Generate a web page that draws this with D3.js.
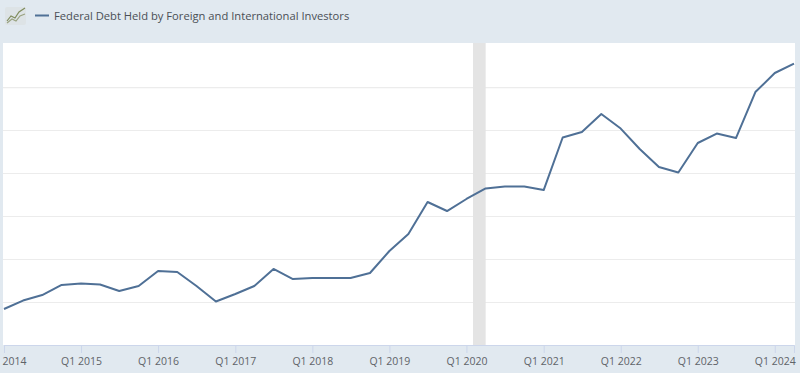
<!DOCTYPE html>
<html>
<head>
<meta charset="utf-8">
<script src="https://cdn.jsdelivr.net/npm/d3@7/dist/d3.min.js"></script>
<style>
html, body { margin: 0; padding: 0; background: #e1e9f0; overflow: hidden; }
text { font-family: "Open Sans", sans-serif; }
</style>
</head>
<body>
<div id="chart"></div>
<script>
var quarters = ["2014-01","2014-04","2014-07","2014-10","2015-01","2015-04","2015-07","2015-10",
    "2016-01","2016-04","2016-07","2016-10","2017-01","2017-04","2017-07","2017-10",
    "2018-01","2018-04","2018-07","2018-10","2019-01","2019-04","2019-07","2019-10",
    "2020-01","2020-04","2020-07","2020-10","2021-01","2021-04","2021-07","2021-10",
    "2022-01","2022-04","2022-07","2022-10","2023-01","2023-04","2023-07","2023-10",
    "2024-01","2024-04"];
// billions (the y labels are cut off, so the scale is a guess)
var debtValues = [5919,6017,6081,6198,6215,6203,6128,6186,
    6360,6349,6186,6006,6093,6186,6384,6267,
    6279,6279,6279,6337,6593,6791,7163,7058,
    7198,7320,7343,7343,7302,7913,7977,8186,
    8017,7779,7570,7506,7849,7959,7907,8442,
    8663,8773];
var yTicks = [6000,6500,7000,7500,8000,8500];
var tickYears = [2014,2015,2016,2017,2018,2019,2020,2021,2022,2023,2024];
var recession = ["2020-02","2020-04"];
var seriesName = "Federal Debt Held by Foreign and International Investors";

var width = 800, height = 373;
var margin = {top: 43, right: 5, bottom: 28, left: 3};
var parseMonth = d3.timeParse("%Y-%m");

var svg = d3.select("#chart").append("svg")
    .attr("width", width)
    .attr("height", height)
    .style("display", "block");

var x = d3.scaleTime()
    .domain([parseMonth("2014-01"), parseMonth("2024-04")])
    .range([4, 794]);

var y = d3.scaleLinear()
    .domain([5500, 9012])
    .range([height - margin.bottom, margin.top]);

var data = quarters.map(function(q, i) {
    return {date: parseMonth(q), value: debtValues[i]};
});

svg.append("rect")
    .attr("x", margin.left)
    .attr("y", margin.top)
    .attr("width", width - margin.left - margin.right)
    .attr("height", height - margin.top - margin.bottom)
    .attr("fill", "#ffffff");

svg.append("g")
    .attr("class", "grid")
    .attr("transform", "translate(" + margin.left + ",0)")
    .call(d3.axisLeft(y).tickValues(yTicks).tickFormat("").tickSize(-(width - margin.left - margin.right)))
    .call(function(g) { g.select(".domain").remove(); })
    .selectAll("line")
    .attr("stroke", "#ececec")
    .attr("stroke-width", 1.2);

svg.append("rect")
    .attr("x", x(parseMonth(recession[0])))
    .attr("y", margin.top)
    .attr("width", x(parseMonth(recession[1])) - x(parseMonth(recession[0])))
    .attr("height", height - margin.top - margin.bottom)
    .attr("fill", "#e4e4e4");

var xAxis = svg.append("g")
    .attr("transform", "translate(0," + (height - margin.bottom) + ")")
    .call(d3.axisBottom(x)
        .tickValues(tickYears.map(function(yr) { return new Date(yr, 0, 1); }))
        .tickFormat(function(d) {
            // the first label is cut by the page edge in the original, only the year shows
            return d.getFullYear() == tickYears[0] ? String(tickYears[0]) : d3.timeFormat("Q1 %Y")(d);
        })
        .tickSize(8)
        .tickPadding(5));
xAxis.select(".domain").attr("stroke", "#ccd6eb");
xAxis.selectAll("line").attr("stroke", "#ccd6eb");
xAxis.selectAll("text")
    .attr("fill", "#5f6368")
    .style("font-size", "10.5px");
xAxis.select(".tick text")
    .attr("text-anchor", "start")
    .attr("x", -2);

var line = d3.line()
    .x(function(d) { return x(d.date); })
    .y(function(d) { return y(d.value); });

svg.append("path")
    .datum(data)
    .attr("fill", "none")
    .attr("stroke", "#4f7096")
    .attr("stroke-width", 2)
    .attr("stroke-linejoin", "round")
    .attr("d", line);

// legend
svg.append("line")
    .attr("x1", 35).attr("x2", 49)
    .attr("y1", 15.5).attr("y2", 15.5)
    .attr("stroke", "#4f7096")
    .attr("stroke-width", 2);
svg.append("text")
    .attr("x", 54)
    .attr("y", 20)
    .attr("fill", "#4a4f55")
    .style("font-size", "11.2px")
    .text(seriesName);

// little chart button left of the legend
var icon = svg.append("g");
icon.append("rect")
    .attr("x", 5).attr("y", 7).attr("width", 21).attr("height", 18).attr("rx", 2)
    .attr("fill", "#dde3e6");
icon.append("path")
    .attr("d", "M7,21L11,16L15,18L19,12L25,8")
    .attr("fill", "none").attr("stroke", "#7f8c5c").attr("stroke-width", 1.2);
icon.append("path")
    .attr("d", "M7,23L12,19L16,21L20,16L25,14")
    .attr("fill", "none").attr("stroke", "#9aa382").attr("stroke-width", 1.2);
</script>
</body>
</html>
